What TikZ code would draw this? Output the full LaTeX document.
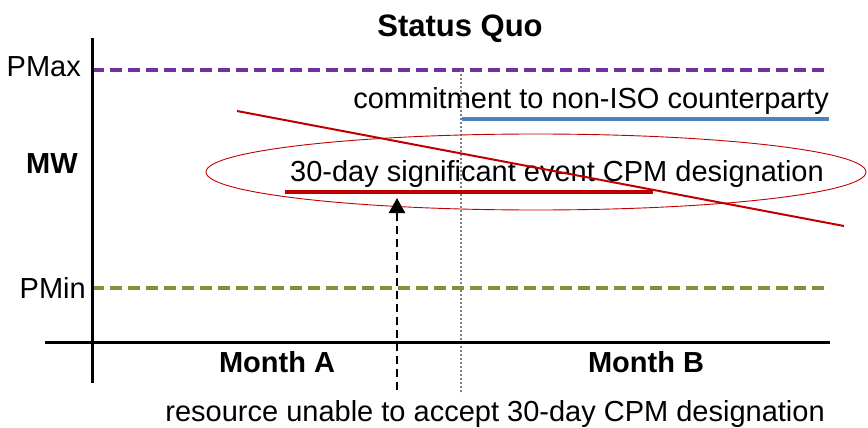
\documentclass[tikz,border=0pt]{standalone}
\usepackage{fontspec}
\setmainfont{Liberation Sans}
\usetikzlibrary{arrows.meta}

\definecolor{maxpurple}{HTML}{7030A0}
\definecolor{mingreen}{HTML}{77933C}
\definecolor{isoblue}{HTML}{4F81BD}
\definecolor{cpmred}{HTML}{C00000}

\begin{document}
\begin{tikzpicture}[x=1pt,y=-1pt,
	lbl/.style={inner sep=0pt, font=\fontsize{29}{34}\selectfont},
	blbl/.style={lbl, font=\fontsize{29}{34}\selectfont\bfseries}]

	\useasboundingbox (0,0) rectangle (868,428);

	\node (title)[inner sep=0pt, anchor=base, font=\fontsize{31}{36}\selectfont\bfseries] at (460,37) {Status Quo};
	\node (PMax)[lbl, anchor=base east] at (81,77) {PMax};
	\node (PMin)[lbl, anchor=base east] at (86,298) {PMin};
	\node (MW)[blbl, anchor=base] at (52,173) {MW};
	\node (MA)[blbl, anchor=base] at (277,372) {Month A};
	\node (MB)[blbl, anchor=base] at (646,372) {Month B};

	\node (ISO)[lbl, anchor=base east] at (829,109) {commitment to non-ISO counterparty};
	\node (CPM)[lbl, anchor=base east] at (824,181) {30-day significant event CPM designation};
	\node (RES)[lbl, anchor=base east] at (825,421) {resource unable to accept 30-day CPM designation};

	%limits
	\draw[maxpurple, line width=3.5pt, dash pattern=on 12pt off 6pt] (92,70) -- (830,70);
	\draw[mingreen, line width=3.5pt, dash pattern=on 12pt off 6pt] (92,288) -- (830,288);

	%month boundary
	\draw[gray, line width=1.2pt, dash pattern=on 2pt off 2pt] (461,70) -- (461,394);

	\draw[isoblue, line width=4.5pt] (462,119) -- (829,119);
	\draw[cpmred, line width=4.5pt] (285,192) -- (653,192);
	\draw[cpmred, line width=2pt] (237,111) -- (844,226);
	\draw[cpmred, line width=0.9pt] (536,172) ellipse (330pt and 38pt);

	%axes
	\draw[line width=3pt] (92,38) -- (92,383);
	\draw[line width=3pt] (45,342) -- (830,342);

	\coordinate (R0) at (397,390);
	\coordinate (R1) at (397,198);
	\draw [->, >={Triangle[length=15pt,width=16pt]}, line width=2.5pt, dash pattern=on 8pt off 5pt] (R0) to (R1);

\end{tikzpicture}
\end{document}
